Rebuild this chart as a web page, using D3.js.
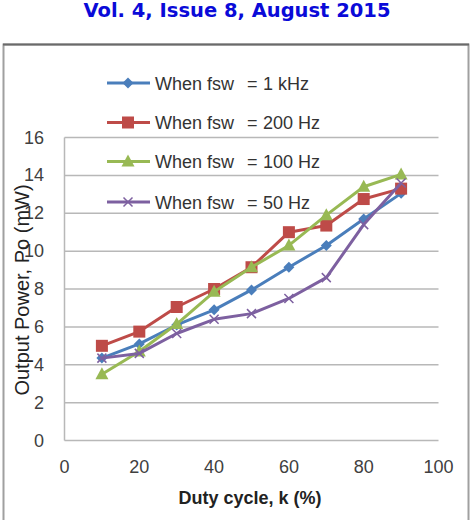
<!DOCTYPE html>
<html>
<head>
<meta charset="utf-8">
<script src="https://cdn.jsdelivr.net/npm/d3@7"></script>
<style>
  body { margin: 0; background: #fff; }
  svg { display: block; }
</style>
</head>
<body>
<div id="chart"></div>
<script>
// data
var duty = [10, 20, 30, 40, 50, 60, 70, 80, 90];
var p_1khz  = [4.35, 5.1, 6.1, 6.9, 7.95, 9.15, 10.3, 11.7, 13.05];
var p_200hz = [5.0, 5.75, 7.05, 8.0, 9.15, 11.0, 11.35, 12.75, 13.3];
var p_100hz = [3.5, 4.7, 6.15, 7.85, 9.15, 10.3, 11.9, 13.4, 14.05];
var p_50hz  = [4.35, 4.6, 5.65, 6.4, 6.7, 7.5, 8.6, 11.4, 13.6];
var series_freq = ['1 kHz', '200 Hz', '100 Hz', '50 Hz'];
var x_ticks = [0, 20, 40, 60, 80, 100];
var y_ticks = [0, 2, 4, 6, 8, 10, 12, 14, 16];

var chart_width  = 474;
var chart_height = 520;

var series = [
  { freq: series_freq[0], values: p_1khz,  color: '#4a7ebb', marker: 'diamond' },
  { freq: series_freq[1], values: p_200hz, color: '#be4b48', marker: 'square' },
  { freq: series_freq[2], values: p_100hz, color: '#98b954', marker: 'triangle' },
  { freq: series_freq[3], values: p_50hz,  color: '#7d60a0', marker: 'x' }
];

var svg = d3.select('#chart')
    .append('svg')
    .attr('width', chart_width)
    .attr('height', chart_height);

// journal header
svg.append('text')
    .attr('x', 237)
    .attr('y', 17)
    .attr('text-anchor', 'middle')
    .attr('font-family', 'DejaVu Sans')
    .attr('font-weight', 'bold')
    .attr('font-size', 19.5)
    .attr('fill', '#0a0ad8')
    .text('Vol. 4, Issue 8, August 2015');

// chart frame
svg.append('rect')
    .attr('x', 3.5)
    .attr('y', 44.5)
    .attr('width', 465)
    .attr('height', 490)
    .attr('fill', '#fff')
    .attr('stroke', '#a0a0a0')
    .attr('stroke-width', 2);
svg.append('line')
    .attr('x1', 3).attr('x2', 469)
    .attr('y1', 44.5).attr('y2', 44.5)
    .attr('stroke', '#6a6a6a')
    .attr('stroke-width', 2);

// scales
var x_scale = d3.scaleLinear()
    .domain([0, 100])
    .range([64.5, 438.5]);

var y_scale = d3.scaleLinear()
    .domain([0, 16])
    .range([440.5, 137.5]);

var font = 'Liberation Sans, Arial, sans-serif';

// gridlines
svg.append('g')
    .selectAll('line')
    .data(y_ticks)
    .enter()
    .append('line')
    .attr('x1', x_scale(0))
    .attr('x2', x_scale(100))
    .attr('y1', function(d){ return y_scale(d); })
    .attr('y2', function(d){ return y_scale(d); })
    .attr('stroke', '#b8b8b8')
    .attr('stroke-width', 1.5);

svg.append('line')
    .attr('x1', x_scale(0))
    .attr('x2', x_scale(0))
    .attr('y1', y_scale(16))
    .attr('y2', y_scale(0))
    .attr('stroke', '#b8b8b8')
    .attr('stroke-width', 1.5);

// y axis labels
svg.append('g')
    .selectAll('text')
    .data(y_ticks)
    .enter()
    .append('text')
    .attr('x', 44)
    .attr('y', function(d){ return y_scale(d) + 6; })
    .attr('text-anchor', 'end')
    .attr('font-family', font)
    .attr('font-size', 18)
    .attr('fill', '#404040')
    .text(function(d){ return d; });

// x axis labels
svg.append('g')
    .selectAll('text')
    .data(x_ticks)
    .enter()
    .append('text')
    .attr('x', function(d){ return x_scale(d); })
    .attr('y', 473)
    .attr('text-anchor', 'middle')
    .attr('font-family', font)
    .attr('font-size', 18)
    .attr('fill', '#404040')
    .text(function(d){ return d; });

// axis titles
svg.append('text')
    .attr('x', 250)
    .attr('y', 504)
    .attr('text-anchor', 'middle')
    .attr('font-family', font)
    .attr('font-weight', 'bold')
    .attr('font-size', 18)
    .attr('fill', '#222')
    .text('Duty cycle, k (%)');

svg.append('text')
    .attr('transform', 'translate(29,290) rotate(-90)')
    .attr('text-anchor', 'middle')
    .attr('font-family', font)
    .attr('font-size', 20)
    .attr('fill', '#222')
    .text('Output Power, Po (mW)');

// markers
function draw_marker(g, type, color){
  if (type === 'diamond') {
    g.append('path').attr('d', 'M0,-5.5L5.5,0L0,5.5L-5.5,0Z').attr('fill', color);
  } else if (type === 'square') {
    g.append('rect').attr('x', -6).attr('y', -6).attr('width', 12).attr('height', 12).attr('fill', color);
  } else if (type === 'triangle') {
    g.append('path').attr('d', 'M0,-7L6.5,5L-6.5,5Z').attr('fill', color);
  } else {
    g.append('path').attr('d', 'M-4.5,-4.5L4.5,4.5M-4.5,4.5L4.5,-4.5')
        .attr('stroke', color).attr('stroke-width', 1.5).attr('fill', 'none');
  }
}

var line = d3.line()
    .x(function(d){ return x_scale(d[0]); })
    .y(function(d){ return y_scale(d[1]); });

series.forEach(function(s){
  var pts = duty.map(function(d, i){ return [d, s.values[i]]; });
  var g = svg.append('g');
  g.append('path')
      .datum(pts)
      .attr('d', line)
      .attr('fill', 'none')
      .attr('stroke', s.color)
      .attr('stroke-width', 3)
      .attr('stroke-linejoin', 'round');
  g.selectAll('g.m')
      .data(pts)
      .enter()
      .append('g')
      .attr('transform', function(d){ return 'translate(' + x_scale(d[0]) + ',' + y_scale(d[1]) + ')'; })
      .each(function(){ draw_marker(d3.select(this), s.marker, s.color); });
});

// legend
var legend_y = [83, 122.5, 161.5, 202];
series.forEach(function(s, i){
  var g = svg.append('g').attr('transform', 'translate(0,' + legend_y[i] + ')');
  g.append('line')
      .attr('x1', 107).attr('x2', 150)
      .attr('y1', 0).attr('y2', 0)
      .attr('stroke', s.color)
      .attr('stroke-width', 3);
  var m = g.append('g').attr('transform', 'translate(128,0)');
  draw_marker(m, s.marker, s.color);
  var t = g.append('text')
      .attr('y', 6.5)
      .attr('font-family', font)
      .attr('font-size', 18)
      .attr('fill', '#333');
  t.append('tspan').attr('x', 155).text('When fsw');
  t.append('tspan').attr('x', 247).text('=');
  t.append('tspan').attr('x', 263).text(s.freq);
});
</script>
</body>
</html>
